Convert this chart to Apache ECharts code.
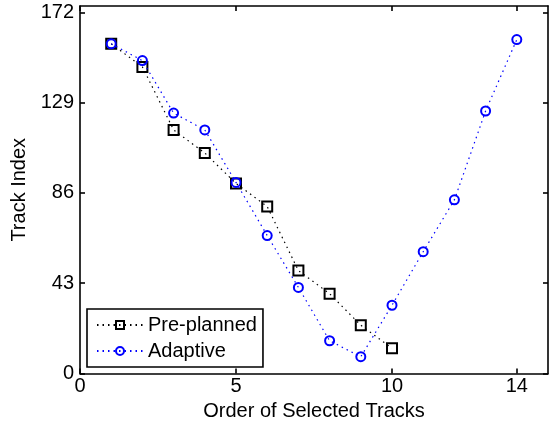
<!DOCTYPE html>
<html><head><meta charset="utf-8">
<script src="https://cdn.jsdelivr.net/npm/echarts@6/dist/echarts.min.js"></script>
<style>html,body{margin:0;padding:0;background:#fff}#c{width:550px;height:427px}</style>
</head><body><div id="c"></div>
<script>
const orderX = [1,2,3,4,5,6,7,8,9,10,11,12,13,14];
const preplanned = [157,146,116,105,90.5,79.5,49,38,23,12];
const adaptive = [157,149,124,116,91,65.7,41,15.6,8,32.5,58,82.7,125,159];
const xTicks = [0,5,10,14];
const yTicks = [0,43,86,129,172];
const seriesNames = ['Pre-planned','Adaptive'];

const FONT = 'Liberation Sans';
const FS = 20;
const chart = echarts.init(document.getElementById('c'), null, {renderer:'canvas'});
const pairs = (ys) => ys.map((y,i)=>[orderX[i], y]);

function xAxisDef(pos, show){
  return {
    type:'value', position:pos, min:0, max:15, interval:1,
    axisLine:{show:true, onZero:false, lineStyle:{color:'#000', width:1.6}},
    axisTick:{show:true, inside:true, length:5, lineStyle:{color:'#000', width:1.6}, customValues: xTicks},
    axisLabel:{show:show, customValues: xTicks, color:'#000', fontFamily:FONT, fontSize:FS, margin:3},
    splitLine:{show:false},
    name: show ? 'Order of Selected Tracks' : '',
    nameLocation:'middle', nameGap:23,
    nameTextStyle:{color:'#000', fontFamily:FONT, fontSize:FS}
  };
}
function yAxisDef(pos, show){
  return {
    type:'value', position:pos, min:0, max:175,
    axisLine:{show:true, onZero:false, lineStyle:{color:'#000', width:1.6}},
    axisTick:{show:true, inside:true, length:5, lineStyle:{color:'#000', width:1.6}, customValues: yTicks},
    axisLabel:{show:show, customValues: yTicks, color:'#000', fontFamily:FONT, fontSize:FS, margin:6},
    splitLine:{show:false},
    name: show ? 'Track Index' : '',
    nameLocation:'middle', nameGap:47, nameRotate:90,
    nameTextStyle:{color:'#000', fontFamily:FONT, fontSize:FS}
  };
}

chart.setOption({
  animation:false,
  backgroundColor:'#fff',
  grid:{left:80, right:2, top:6, bottom:53.5, containLabel:false},
  xAxis:[xAxisDef('bottom', true), xAxisDef('top', false)],
  yAxis:[yAxisDef('left', true), yAxisDef('right', false)],
  legend:{
    left:87, top:309, orient:'vertical',
    backgroundColor:'#fff', borderColor:'#000', borderWidth:1.6, borderRadius:0,
    padding:[6,6,6,9], itemGap:6, itemWidth:46, itemHeight:10,
    textStyle:{color:'#000', fontFamily:FONT, fontSize:FS, lineHeight:20},
    data: seriesNames
  },
  series:[
    {name:seriesNames[0], type:'line', xAxisIndex:0, yAxisIndex:0, data:pairs(preplanned),
     symbol:'rect', symbolSize:10, showAllSymbol:true,
     itemStyle:{color:'rgba(0,0,0,0)', borderColor:'#000', borderWidth:2},
     lineStyle:{color:'#000', width:1.2, type:[1.5,4]}, z:2},
    {name:seriesNames[1], type:'line', xAxisIndex:0, yAxisIndex:0, data:pairs(adaptive),
     symbol:'circle', symbolSize:9, showAllSymbol:true,
     itemStyle:{color:'rgba(0,0,0,0)', borderColor:'#0000ff', borderWidth:2},
     lineStyle:{color:'#0000ff', width:1.2, type:[1.5,4]}, z:3}
  ]
});
</script></body></html>
